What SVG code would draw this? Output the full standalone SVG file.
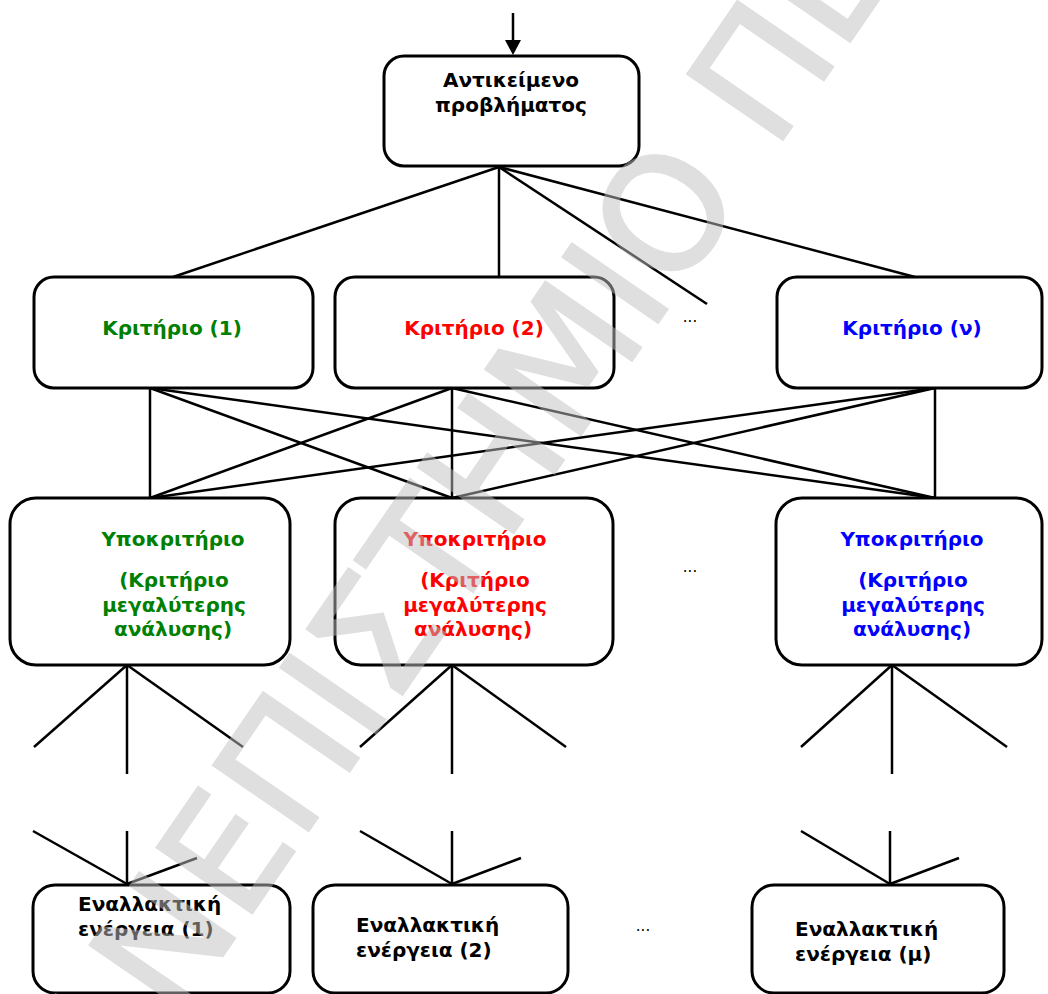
<svg xmlns="http://www.w3.org/2000/svg" width="1048" height="994" viewBox="0 0 1048 994">
<style>
.box{fill:#fff;stroke:#000;stroke-width:3}
.ln{stroke:#000;stroke-width:2.5;fill:none;stroke-linecap:butt}
.t{font-family:"DejaVu Sans",Verdana,sans-serif;font-weight:bold;font-size:20px;text-anchor:middle}
.tl{font-family:"DejaVu Sans",Verdana,sans-serif;font-weight:bold;font-size:20px;text-anchor:start;fill:#000}
.g{fill:#008000}.r{fill:#ff0000}.b{fill:#0000ff}.k{fill:#000}
.dots{font-family:"DejaVu Sans",sans-serif;font-size:15px;fill:#000;text-anchor:middle}
.wm{font-family:"DejaVu Sans",sans-serif;font-size:158px;fill:#c0c0c0;stroke:#c0c0c0;stroke-width:3;opacity:0.5}
</style>
<defs>
<marker id="arr" markerWidth="16" markerHeight="14" refX="8" refY="14" orient="auto-start-reverse" markerUnits="userSpaceOnUse" viewBox="0 0 16 14">
<path d="M0,0 L16,0 L8,14 Z" fill="#000"/>
</marker>
</defs>
<rect width="1048" height="994" fill="#fff"/>

<g id="connectors">
<line class="ln" x1="513" y1="13" x2="513" y2="42"/>
<path d="M505,40 L521,40 L513,55 Z" fill="#000"/>
<line class="ln" x1="499" y1="167" x2="173" y2="277"/>
<line class="ln" x1="499" y1="167" x2="499" y2="277"/>
<line class="ln" x1="499" y1="167" x2="707" y2="304"/>
<line class="ln" x1="499" y1="167" x2="915" y2="277"/>

<line class="ln" x1="150" y1="388" x2="150" y2="498"/>
<line class="ln" x1="150" y1="388" x2="452" y2="498"/>
<line class="ln" x1="150" y1="388" x2="935" y2="498"/>
<line class="ln" x1="452" y1="388" x2="150" y2="498"/>
<line class="ln" x1="452" y1="388" x2="452" y2="498"/>
<line class="ln" x1="452" y1="388" x2="935" y2="498"/>
<line class="ln" x1="935" y1="388" x2="150" y2="498"/>
<line class="ln" x1="935" y1="388" x2="452" y2="498"/>
<line class="ln" x1="935" y1="388" x2="935" y2="498"/>

<line class="ln" x1="127" y1="665" x2="34" y2="747"/>
<line class="ln" x1="127" y1="665" x2="127" y2="774"/>
<line class="ln" x1="127" y1="665" x2="243" y2="747"/>
<line class="ln" x1="452" y1="665" x2="360" y2="747"/>
<line class="ln" x1="452" y1="665" x2="452" y2="774"/>
<line class="ln" x1="452" y1="665" x2="566" y2="747"/>
<line class="ln" x1="892" y1="665" x2="801" y2="747"/>
<line class="ln" x1="892" y1="665" x2="892" y2="774"/>
<line class="ln" x1="892" y1="665" x2="1007" y2="747"/>

<line class="ln" x1="33" y1="831" x2="127" y2="884"/>
<line class="ln" x1="127" y1="831" x2="127" y2="884"/>
<line class="ln" x1="127" y1="884" x2="197" y2="858"/>
<line class="ln" x1="360" y1="831" x2="452" y2="884"/>
<line class="ln" x1="452" y1="831" x2="452" y2="884"/>
<line class="ln" x1="452" y1="884" x2="521" y2="858"/>
<line class="ln" x1="801" y1="831" x2="890" y2="884"/>
<line class="ln" x1="890" y1="831" x2="890" y2="884"/>
<line class="ln" x1="890" y1="884" x2="959" y2="858"/>
</g>

<g id="node-top">
<rect class="box" x="384" y="56" width="255" height="110" rx="20"/>
<text class="t k" x="511" y="87">Αντικείμενο</text>
<text class="t k" x="511" y="112">προβλήματος</text>
</g>

<g id="node-k1">
<rect class="box" x="34" y="277" width="279" height="111" rx="20"/>
<text class="t g" x="172" y="335">Κριτήριο (1)</text>
</g>
<g id="node-k2">
<rect class="box" x="335" y="277" width="279" height="111" rx="20"/>
<text class="t r" x="474" y="335">Κριτήριο (2)</text>
</g>
<g id="dots-k">
<text class="dots" x="690" y="322">...</text>
</g>
<g id="node-kn">
<rect class="box" x="777" y="277" width="265" height="111" rx="20"/>
<text class="t b" x="912" y="335">Κριτήριο (ν)</text>
</g>

<g id="node-s1">
<rect class="box" x="10" y="498" width="280" height="167" rx="26"/>
<text class="t g" x="173" y="546">Υποκριτήριο</text>
<text class="t g" x="174" y="587">(Κριτήριο</text>
<text class="t g" x="174" y="612">μεγαλύτερης</text>
<text class="t g" x="173" y="636">ανάλυσης)</text>
</g>
<g id="node-s2">
<rect class="box" x="335" y="498" width="278" height="167" rx="26"/>
<text class="t r" x="475" y="546">Υποκριτήριο</text>
<text class="t r" x="475" y="587">(Κριτήριο</text>
<text class="t r" x="475" y="612">μεγαλύτερης</text>
<text class="t r" x="473" y="636">ανάλυσης)</text>
</g>
<g id="dots-s">
<text class="dots" x="690" y="572">...</text>
</g>
<g id="node-sn">
<rect class="box" x="776" y="498" width="266" height="167" rx="26"/>
<text class="t b" x="912" y="546">Υποκριτήριο</text>
<text class="t b" x="913" y="587">(Κριτήριο</text>
<text class="t b" x="913" y="612">μεγαλύτερης</text>
<text class="t b" x="912" y="636">ανάλυσης)</text>
</g>

<g id="node-a1">
<rect class="box" x="33" y="885" width="257" height="108" rx="22"/>
<text class="tl" x="78" y="911">Εναλλακτική</text>
<text class="tl" x="78" y="936">ενέργεια (1)</text>
</g>
<g id="node-a2">
<rect class="box" x="313" y="885" width="255" height="108" rx="22"/>
<text class="tl" x="356" y="932">Εναλλακτική</text>
<text class="tl" x="356" y="957">ενέργεια (2)</text>
</g>
<g id="dots-a">
<text class="dots" x="643" y="931">...</text>
</g>
<g id="node-am">
<rect class="box" x="752" y="885" width="252" height="108" rx="22"/>
<text class="tl" x="795" y="936">Εναλλακτική</text>
<text class="tl" x="795" y="961">ενέργεια (μ)</text>
</g>

<g id="watermark">
<text class="wm" transform="translate(746,194) rotate(-55.5)" text-anchor="end">ΠΑΝΕΠΙΣΤΗΜΙΟ</text>
<text class="wm" transform="translate(774,152) rotate(-55.5)">ΠΕ</text>
</g>
</svg>
